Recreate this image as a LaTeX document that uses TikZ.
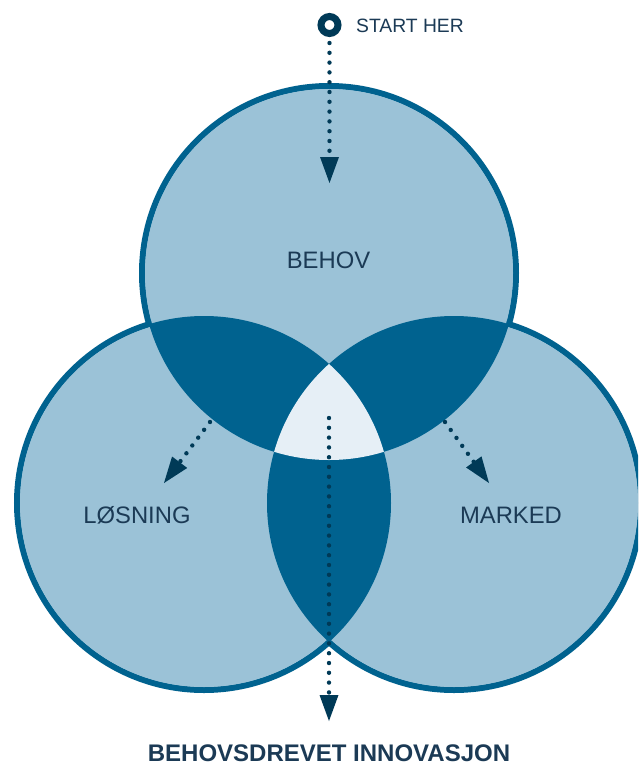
\documentclass[tikz,border=0pt]{standalone}
\usepackage{fontspec}
\setmainfont{Liberation Sans}
\usetikzlibrary{arrows.meta}
\definecolor{lightc}{HTML}{9BC2D7}
\definecolor{darkc}{HTML}{00628F}
\definecolor{triplec}{HTML}{E6EFF6}
\definecolor{arrowc}{HTML}{003A57}
\definecolor{textc}{HTML}{1B3A55}
\tikzset{
  ring/.style={draw=darkc, line width=6pt, fill=lightc},
  dotarrow/.style={draw=arrowc, line width=4.4pt, dash pattern=on 0pt off 9.8pt, line cap=round,
    -{Triangle[width=19pt,length=26pt,line width=0pt]}},
  lbl/.style={text=textc, inner sep=0pt, font=\fontsize{23.8}{28}\selectfont},
}
\begin{document}
\begin{tikzpicture}[x=1pt,y=-1pt]
\clip (0,0) rectangle (638,766);
\fill[white] (0,0) rectangle (638,766);
\coordinate (T) at (329,273);
\coordinate (L) at (204,503);
\coordinate (R) at (454,503);
% outlines
\draw[ring] (T) circle (187pt);
\draw[ring] (L) circle (187pt);
\draw[ring] (R) circle (187pt);
% hide inner strokes
\fill[lightc] (T) circle (184pt);
\fill[lightc] (L) circle (184pt);
\fill[lightc] (R) circle (184pt);
% pairwise lenses
\begin{scope}\clip (T) circle (187pt); \fill[darkc] (L) circle (187pt); \fill[darkc] (R) circle (187pt);\end{scope}
\begin{scope}\clip (L) circle (187pt); \fill[darkc] (R) circle (187pt);\end{scope}
% triple region
\begin{scope}\clip (T) circle (187pt); \clip (L) circle (187pt); \fill[triplec] (R) circle (187pt);\end{scope}
% labels
\node[lbl, anchor=base] (behov) at (328.5,268) {BEHOV};
\node[lbl, anchor=base] (losning) at (137,523) {LØSNING};
\node[lbl, anchor=base] (marked) at (511,523) {MARKED};
\node[text=textc, inner sep=0pt, anchor=base west, font=\fontsize{19.3}{23}\selectfont] (starttext) at (356,32) {START HER};
\node[text=textc, inner sep=0pt, anchor=base, font=\bfseries\fontsize{24}{28}\selectfont] (title) at (329,761) {BEHOVSDREVET INNOVASJON};
% start marker
\node[circle, draw=arrowc, line width=7pt, minimum size=17pt, inner sep=0pt] (start) at (329.5,25) {};
% arrow ends
\coordinate (ttip) at (329.5,183);
\coordinate (c1) at (329,418);
\coordinate (c2) at (329,721);
\coordinate (l1) at (210,422);
\coordinate (l2) at (164,483);
\coordinate (r1) at (445,422);
\coordinate (r2) at (489,483);
\draw[dotarrow, shorten <=6pt] (start) -- (ttip);
\draw[dotarrow] (c1) -- (c2);
\draw[dotarrow] (l1) -- (l2);
\draw[dotarrow] (r1) -- (r2);
\end{tikzpicture}
\end{document}
